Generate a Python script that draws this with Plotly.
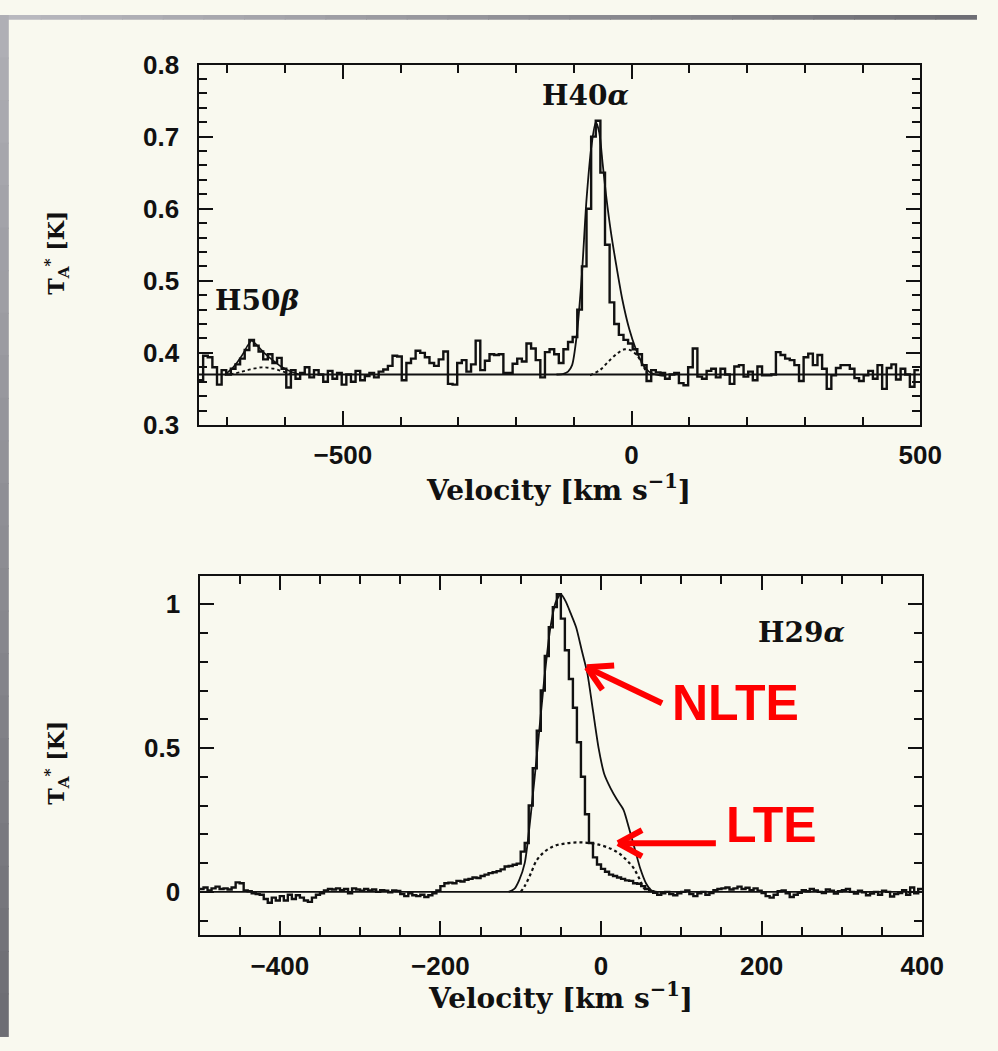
import numpy as np
import plotly.graph_objects as go

# ---------------- H40alpha / H50beta spectrum (upper panel) ----------------
# antenna temperature per 8 km/s channel, first channel starts at -750 km/s
TOP_V0 = -750.0
TOP_DV = 8.0
top_spectrum = [
    0.362, 0.396, 0.394, 0.380, 0.356, 0.376, 0.370, 0.378, 0.384, 0.392,
    0.404, 0.418, 0.410, 0.402, 0.391, 0.398, 0.386, 0.393, 0.378, 0.352,
    0.376, 0.364, 0.372, 0.380, 0.366, 0.376, 0.370, 0.360, 0.375, 0.364,
    0.372, 0.356, 0.370, 0.360, 0.375, 0.362, 0.368, 0.372, 0.366, 0.374,
    0.377, 0.382, 0.396, 0.395, 0.362, 0.386, 0.392, 0.403, 0.400, 0.394,
    0.386, 0.382, 0.391, 0.402, 0.357, 0.356, 0.386, 0.390, 0.374, 0.384,
    0.417, 0.376, 0.389, 0.398, 0.397, 0.398, 0.372, 0.372, 0.385, 0.392,
    0.388, 0.413, 0.406, 0.390, 0.366, 0.401, 0.405, 0.398, 0.386, 0.405,
    0.415, 0.422, 0.460, 0.520, 0.600, 0.700, 0.722, 0.650, 0.550, 0.470,
    0.440, 0.425, 0.418, 0.413, 0.405, 0.398, 0.383, 0.361, 0.376, 0.373,
    0.372, 0.364, 0.370, 0.372, 0.358, 0.355, 0.380, 0.406, 0.367, 0.364,
    0.375, 0.378, 0.366, 0.378, 0.370, 0.357, 0.381, 0.383, 0.367, 0.374,
    0.362, 0.381, 0.369, 0.369, 0.370, 0.401, 0.397, 0.392, 0.390, 0.383,
    0.361, 0.394, 0.399, 0.383, 0.397, 0.378, 0.350, 0.369, 0.379, 0.383,
    0.383, 0.378, 0.365, 0.361, 0.369, 0.375, 0.364, 0.383, 0.350, 0.379,
    0.384, 0.363, 0.378, 0.370, 0.353, 0.376,
]
top_baseline = 0.37

# model profiles for H40alpha
top_nlte_v = [-130, -118, -110, -103, -95, -86, -78, -69, -62, -56, -50, -44,
              -36, -27, -16, -4, 7, 18, 30, 47, 60]
top_nlte_t = [0.370, 0.371, 0.374, 0.383, 0.424, 0.509, 0.613, 0.690, 0.720,
              0.706, 0.662, 0.618, 0.569, 0.524, 0.474, 0.433, 0.406, 0.386,
              0.374, 0.369, 0.368]
top_lte_v = [-72, -55, -40, -25, -12, 0, 10, 20, 28]
top_lte_t = [0.369, 0.376, 0.388, 0.399, 0.405, 0.403, 0.396, 0.382, 0.370]

# model profiles for H50beta
h50_nlte_v = [-705, -690, -675, -665, -658, -648, -635, -620, -605, -590, -575]
h50_nlte_t = [0.369, 0.380, 0.396, 0.410, 0.417, 0.410, 0.399, 0.389, 0.380,
              0.374, 0.370]
h50_lte_v = [-695, -675, -660, -640, -620, -600, -585]
h50_lte_t = [0.370, 0.374, 0.377, 0.380, 0.378, 0.373, 0.370]

# ---------------- H29alpha spectrum (lower panel) ----------------
BOT_V0 = -500.0
BOT_DV = 5.0
bot_spectrum = [
    0.010, 0.015, 0.005, 0.012, 0.018, 0.010, 0.012, 0.008, 0.015,
    0.033, 0.030,
    0.005, 0.002, -0.005, -0.008, -0.010,
    -0.025, -0.038, -0.020, -0.030,
    -0.015, -0.030, -0.010, -0.025,
    -0.012, -0.020, -0.030, -0.035,
    -0.020, -0.010, -0.005, 0.005,
    0.010, 0.008, 0.012, 0.006, 0.010, -0.005, 0.012, 0.008, 0.004, 0.010,
    0.005, 0.008, 0.000, 0.006, 0.004, -0.002, 0.005, 0.003,
    -0.008, -0.015, -0.005, -0.012, -0.015, -0.010, -0.018, -0.012,
    -0.005, 0.005, 0.020, 0.030,
    0.032, 0.030, 0.038, 0.036, 0.042, 0.045,
    0.050, 0.048, 0.055, 0.060,
    0.065, 0.068, 0.072, 0.078,
    0.088, 0.090, 0.094, 0.098,
    0.140, 0.170, 0.300, 0.430, 0.560, 0.700, 0.820, 0.920, 0.990, 1.035,
    0.950, 0.840, 0.740, 0.640, 0.520, 0.400, 0.270, 0.170, 0.120, 0.095,
    0.080, 0.070, 0.060, 0.055, 0.050, 0.045, 0.040, 0.038, 0.030, 0.028,
    0.020, 0.010, 0.002, -0.003, -0.010, -0.005, 0.000, -0.008, -0.012, -0.005,
    0.000,
    0.005, -0.008, -0.015, -0.005, 0.000, -0.010, -0.004, 0.006, 0.010, 0.012,
    0.015, 0.008, 0.012, 0.018, 0.010, 0.014, 0.006, 0.012, 0.004, -0.004,
    -0.015, -0.020, -0.010, 0.002, 0.005, -0.005, -0.018, -0.010, -0.003, 0.006,
    0.002, 0.010, 0.005, 0.000, -0.004, 0.008, 0.004, -0.006, 0.002, 0.006,
    0.010, 0.000, -0.006, 0.004, -0.002, -0.012, -0.006, 0.000, -0.010, 0.004,
    0.000, -0.016, -0.008, -0.004, 0.006, -0.010, 0.015, -0.005, 0.010,
]
bot_baseline = 0.0

bot_nlte_v = [-115, -108, -102, -95, -87, -79, -71, -63, -56, -50, -44, -38,
              -31, -24, -17, -10, -3, 4, 12, 20, 28, 35, 42, 49, 56, 63, 70]
bot_nlte_t = [0.000, 0.010, 0.040, 0.100, 0.280, 0.500, 0.730, 0.920, 1.010,
              1.035, 1.010, 0.970, 0.920, 0.840, 0.760, 0.630, 0.500, 0.410,
              0.360, 0.320, 0.285, 0.220, 0.150, 0.080, 0.030, 0.005, 0.000]
bot_lte_v = [-100, -95, -88, -80, -70, -58, -45, -30, -15, 0, 12, 22, 32, 40,
             47, 53, 58]
bot_lte_t = [0.000, 0.020, 0.060, 0.110, 0.140, 0.160, 0.168, 0.172, 0.170,
             0.162, 0.150, 0.135, 0.110, 0.085, 0.050, 0.015, 0.000]

TOP_XRANGE = [-750, 500]
TOP_YRANGE = [0.3, 0.8]
BOT_XRANGE = [-500, 400]
BOT_YRANGE = [-0.15, 1.1]

# ---------------- page geometry (pixels) ----------------
W, H = 998, 1051
TOP_BOX = (203, 941, 51, 422)    # left, right, top, bottom
BOT_BOX = (204, 943, 577, 947)


def px(x):
    return x / W


def py(y):
    return 1 - y / H


def step_xy(v0, dv, vals):
    edges = list(v0 + dv * np.arange(len(vals) + 1))
    return edges, list(vals) + [vals[-1]]


INK = "#111111"
CREAM = "#f9f9ef"
RED = "#ff0000"
SERIF = "DejaVu Serif, Liberation Serif, serif"
SANS = "Liberation Sans, Arial, sans-serif"

fig = go.Figure()

# upper panel traces
tx, ty = step_xy(TOP_V0, TOP_DV, top_spectrum)
fig.add_trace(go.Scatter(x=TOP_XRANGE, y=[top_baseline, top_baseline], mode="lines",
                         line=dict(color=INK, width=1.8), xaxis="x", yaxis="y"))
fig.add_trace(go.Scatter(x=h50_lte_v, y=h50_lte_t, mode="lines",
                         line=dict(color=INK, width=1.8, dash="dot", shape="spline"),
                         xaxis="x", yaxis="y"))
fig.add_trace(go.Scatter(x=top_lte_v, y=top_lte_t, mode="lines",
                         line=dict(color=INK, width=2.0, dash="dot", shape="spline"),
                         xaxis="x", yaxis="y"))
fig.add_trace(go.Scatter(x=h50_nlte_v, y=h50_nlte_t, mode="lines",
                         line=dict(color=INK, width=1.6, shape="spline", smoothing=0.6),
                         xaxis="x", yaxis="y"))
fig.add_trace(go.Scatter(x=top_nlte_v, y=top_nlte_t, mode="lines",
                         line=dict(color=INK, width=1.8, shape="spline", smoothing=0.7),
                         xaxis="x", yaxis="y"))
fig.add_trace(go.Scatter(x=tx, y=ty, mode="lines",
                         line=dict(color=INK, width=2.4, shape="hv"),
                         xaxis="x", yaxis="y"))

# lower panel traces
bx, by = step_xy(BOT_V0, BOT_DV, bot_spectrum)
fig.add_trace(go.Scatter(x=BOT_XRANGE, y=[bot_baseline, bot_baseline], mode="lines",
                         line=dict(color=INK, width=1.8), xaxis="x2", yaxis="y2"))
fig.add_trace(go.Scatter(x=bot_lte_v, y=bot_lte_t, mode="lines",
                         line=dict(color=INK, width=2.2, dash="dot", shape="spline"),
                         xaxis="x2", yaxis="y2"))
fig.add_trace(go.Scatter(x=bot_nlte_v, y=bot_nlte_t, mode="lines",
                         line=dict(color=INK, width=1.8, shape="spline", smoothing=0.7),
                         xaxis="x2", yaxis="y2"))
fig.add_trace(go.Scatter(x=bx, y=by, mode="lines",
                         line=dict(color=INK, width=2.4, shape="hv"),
                         xaxis="x2", yaxis="y2"))


def axis_style(**kw):
    base = dict(showline=True, linecolor=INK, linewidth=2.2, mirror="ticks",
                ticks="inside", ticklen=14, tickwidth=1.8, tickcolor=INK,
                showgrid=False, zeroline=False, fixedrange=True,
                tickfont=dict(family=SANS, size=26, color=INK, weight=700))
    base.update(kw)
    return base


tick_minor = dict(ticks="inside", ticklen=8, tickwidth=1.6, tickcolor=INK, showgrid=False)

fig.update_layout(
    width=W, height=H,
    margin=dict(l=0, r=0, t=0, b=0),
    paper_bgcolor=CREAM, plot_bgcolor="rgba(0,0,0,0)",
    showlegend=False,
    xaxis=axis_style(domain=[px(TOP_BOX[0]), px(TOP_BOX[1])], range=TOP_XRANGE,
                     tickvals=[-500, 0, 500], anchor="y", ticklabelstandoff=6,
                     minor=dict(dtick=100, tick0=0, **tick_minor)),
    yaxis=axis_style(domain=[py(TOP_BOX[3]), py(TOP_BOX[2])], range=TOP_YRANGE,
                     dtick=0.1, tick0=0.3, tickformat=".1f", anchor="x",
                     ticklabelstandoff=12,
                     minor=dict(dtick=0.02, tick0=0.3, **tick_minor)),
    xaxis2=axis_style(domain=[px(BOT_BOX[0]), px(BOT_BOX[1])], range=BOT_XRANGE,
                      dtick=200, tick0=0, anchor="y2", ticklabelstandoff=7,
                      minor=dict(dtick=50, tick0=0, **tick_minor)),
    yaxis2=axis_style(domain=[py(BOT_BOX[3]), py(BOT_BOX[2])], range=BOT_YRANGE,
                      tickvals=[0, 0.5, 1], ticktext=["0", "0.5", "1"], anchor="x2",
                      ticklabelstandoff=12,
                      minor=dict(dtick=0.1, tick0=0, **tick_minor)),
)

# framing strips along the page edges
shapes = []
n = 24
for i in range(n):
    f = i / (n - 1)
    g = int(185 - 75 * f)
    shapes.append(dict(type="rect", xref="paper", yref="paper", layer="above",
                       x0=px(i * W / n), x1=px((i + 1) * W / n + 1), y0=py(5), y1=1,
                       fillcolor=f"rgb({g},{g},{g + 6})", line=dict(width=0)))
for i in range(n):
    f = i / (n - 1)
    g = int(175 - 65 * f)
    shapes.append(dict(type="rect", xref="paper", yref="paper", layer="above",
                       x0=0, x1=px(9), y0=py((i + 1) * H / n + 1), y1=py(i * H / n),
                       fillcolor=f"rgb({g},{g},{g + 6})", line=dict(width=0)))


# red arrows pointing at the model curves
def arrow(tip, tail, arm1, arm2, width=6):
    out = []
    for a, b in ((tail, tip), (tip, arm1), (tip, arm2)):
        out.append(dict(type="line", xref="paper", yref="paper", layer="above",
                        x0=px(a[0]), y0=py(a[1]), x1=px(b[0]), y1=py(b[1]),
                        line=dict(color=RED, width=width)))
    return out


shapes += arrow((600, 671.5), (677, 708.5), (628, 669.5), (616, 694.5))
shapes += arrow((632, 852.5), (732, 852.5), (656.5, 839), (656.5, 866))
fig.update_layout(shapes=shapes)

ann = []


def text(x, y, s, size, family=SERIF, color=INK, angle=0, weight=None):
    font = dict(family=family, size=size, color=color)
    if weight:
        font["weight"] = weight
    ann.append(dict(x=px(x), y=py(y), xref="paper", yref="paper", text=s,
                    showarrow=False, font=font, textangle=angle,
                    xanchor="center", yanchor="middle"))


text(599, 83, "H40<i>α</i>", 28, weight=700)
text(263, 294, "H50<i>β</i>", 28, weight=700)
text(820, 636, "H29<i>α</i>", 28, weight=700)
text(571, 487, "Velocity [km s<sup>−1</sup>]", 28, weight=700)
text(573, 1010, "Velocity [km s<sup>−1</sup>]", 28, weight=700)
text(58, 245, "T<sub>A</sub><sup>*</sup> [K]", 22, angle=-90, weight=700)
text(58, 770, "T<sub>A</sub><sup>*</sup> [K]", 22, angle=-90, weight=700)
text(752, 708, "NLTE", 50, family=SANS, color=RED, weight=700)
text(789, 834, "LTE", 50, family=SANS, color=RED, weight=700)
fig.update_layout(annotations=ann)

fig.write_html(
    "out.html",
    post_script=("document.documentElement.style.margin='0';"
                 "document.body.style.margin='0';"),
)
